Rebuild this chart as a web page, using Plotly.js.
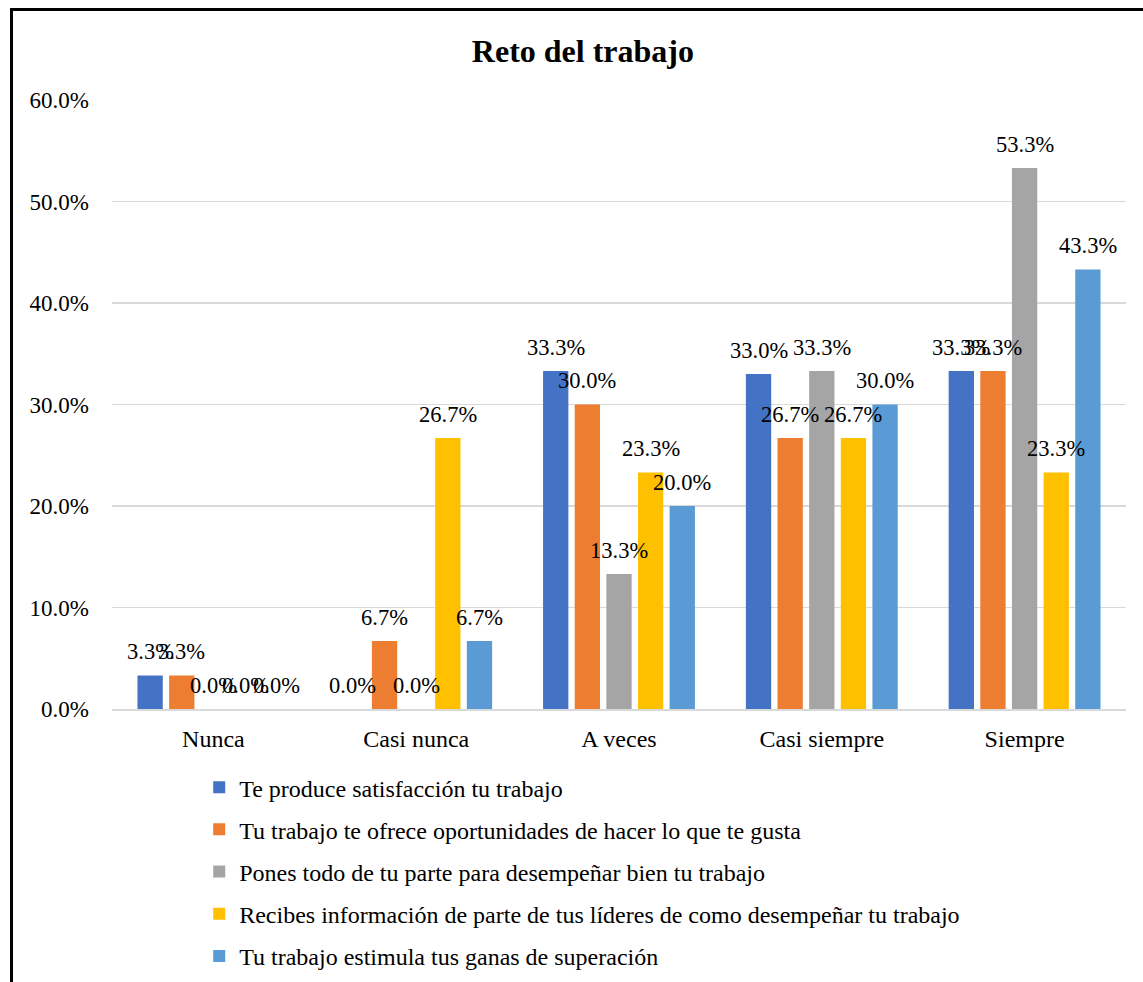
<!DOCTYPE html>
<html>
<head>
<meta charset="utf-8">
<script src="https://cdn.plot.ly/plotly-3.0.1.min.js"></script>
<style>
  html, body { margin: 0; padding: 0; background: #fff; overflow: hidden; }
  #chart { width: 1143px; height: 982px; position: absolute; left: 0; top: 0; }
  #frame { position: absolute; left: 10px; top: 8px; width: 2000px; height: 2000px;
           border-left: 3px solid #000; border-top: 3px solid #000; pointer-events: none; }
</style>
</head>
<body>
<div id="chart"></div>
<div id="frame"></div>
<script>
const categories = ["Nunca", "Casi nunca", "A veces", "Casi siempre", "Siempre"];
const seriesNames = [
  "Te produce satisfacción tu trabajo",
  "Tu trabajo te ofrece oportunidades de hacer lo que te gusta",
  "Pones todo de tu parte para desempeñar bien tu trabajo",
  "Recibes información de parte de tus líderes de como desempeñar tu trabajo",
  "Tu trabajo estimula tus ganas de superación"
];
const satisfaccion = [3.3, 0.0, 33.3, 33.0, 33.3];
const oportunidades = [3.3, 6.7, 30.0, 26.7, 33.3];
const ponesTodo = [0.0, 0.0, 13.3, 33.3, 53.3];
const informacion = [0.0, 26.7, 23.3, 26.7, 23.3];
const superacion = [0.0, 6.7, 20.0, 30.0, 43.3];
const seriesValues = [satisfaccion, oportunidades, ponesTodo, informacion, superacion];
const colors = ["#4472C4", "#ED7D31", "#A5A5A5", "#FFC000", "#5B9BD5"];

const FONT = "Liberation Serif";
const BARGAP = 0.22;
const nSeries = seriesValues.length;
const slot = (1 - BARGAP) / nSeries;

const traces = seriesValues.map((vals, i) => ({
  type: "bar",
  name: seriesNames[i],
  x: categories,
  y: vals,
  marker: { color: colors[i] },
  legendgroup: "g" + i,
  hoverinfo: "x+y+name"
}));

// Data labels placed above each bar (outside end), through the x/y axes.
const annotations = [];
seriesValues.forEach((vals, si) => {
  vals.forEach((v, ci) => {
    annotations.push({
      xref: "x", yref: "y",
      x: ci + (si - (nSeries - 1) / 2) * slot,
      y: v,
      text: v.toFixed(1) + "%",
      showarrow: false,
      xanchor: "center", yanchor: "middle",
      yshift: 24,
      font: { family: FONT, size: 22.5, color: "#000" }
    });
  });
});

const layout = {
  width: 1143,
  height: 982,
  paper_bgcolor: "#fff",
  plot_bgcolor: "#fff",
  margin: { l: 112, r: 17, t: 100, b: 273, autoexpand: false },
  title: {
    text: "<b>Reto del trabajo</b>",
    font: { family: FONT, size: 32, color: "#000" },
    x: 0.51, xanchor: "center",
    y: 0.948, yanchor: "middle"
  },
  barmode: "group",
  bargap: BARGAP,
  bargroupgap: 0.2,
  xaxis: {
    type: "category",
    range: [-0.5, categories.length - 0.5],
    showgrid: false,
    showline: true,
    linecolor: "#d9d9d9",
    linewidth: 1.5,
    ticks: "",
    ticklabelstandoff: 8,
    tickfont: { family: FONT, size: 24, color: "#000" }
  },
  yaxis: {
    range: [0, 60],
    dtick: 10,
    tickformat: ".1f",
    ticksuffix: "%",
    showgrid: true,
    gridcolor: "#d9d9d9",
    gridwidth: 1.5,
    zeroline: false,
    showline: false,
    ticks: "",
    ticklabelstandoff: 22,
    tickfont: { family: FONT, size: 23, color: "#000" }
  },
  annotations: annotations,
  showlegend: true,
  legend: {
    orientation: "v",
    x: 0.086, xanchor: "left",
    y: -0.092, yanchor: "top",
    traceorder: "grouped",
    tracegroupgap: 8,
    font: { family: FONT, size: 24, color: "#000" },
    itemwidth: 30
  }
};

Plotly.newPlot("chart", traces, layout, { displayModeBar: false, staticPlot: true });
</script>
</body>
</html>
